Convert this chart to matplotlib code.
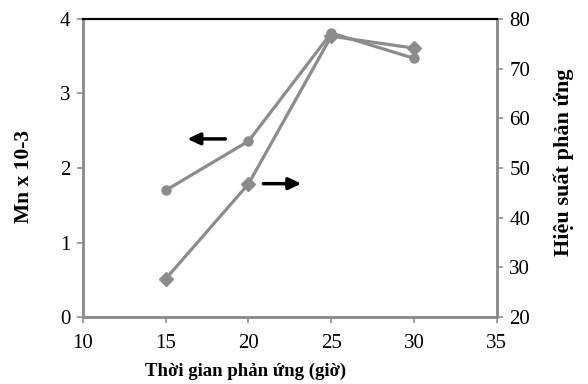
import numpy as np
import matplotlib
matplotlib.use("Agg")
import matplotlib.pyplot as plt

# data
time_h = [15, 20, 25, 30]
mn = [1.70, 2.36, 3.81, 3.47]           # Mn x 10-3 (left axis)
yield_pct = [27.7, 46.8, 76.5, 74.1]    # Hiệu suất phản ứng (right axis)

plt.rcParams['font.family'] = ['Liberation Serif', 'DejaVu Serif']

GRAY = "#8c8c8c"

fig = plt.figure(figsize=(5.88, 3.84), dpi=100)
ax = fig.add_axes([0.141, 0.174, 0.704, 0.777])
ax2 = ax.twinx()

ax.plot(time_h, mn, color=GRAY, lw=2.3, marker="o", ms=6.5, zorder=3)
ax2.plot(time_h, yield_pct, color=GRAY, lw=2.3, marker="D", ms=7, zorder=3)

ax.set_xlim(10, 35)
ax.set_ylim(0, 4)
ax2.set_ylim(20, 80)
ax.set_xticks(range(10, 36, 5))
ax.set_yticks(range(0, 5))
ax2.set_yticks(range(20, 81, 10))

for a in (ax, ax2):
    for s in ("left", "right", "bottom"):
        a.spines[s].set_color(GRAY)
        a.spines[s].set_linewidth(1.8)
    a.spines["top"].set_color("black")
    a.spines["top"].set_linewidth(1.5)
    a.tick_params(colors="black", labelsize=15, length=4, width=1.2, direction="out", pad=5)
    a.tick_params(axis="both", color=GRAY)
ax.tick_params(axis="x", pad=8)

ax.set_xlabel("Thời gian phản ứng (giờ)", fontsize=13.5, fontweight="bold")
ax.xaxis.set_label_coords(0.394, -0.153)
ax.set_ylabel("Mn x 10-3", fontsize=15.5, fontweight="bold")
ax.yaxis.set_label_coords(-0.118, 0.47)
ax2.set_ylabel("Hiệu suất phản ứng", fontsize=16, fontweight="bold")
ax2.yaxis.set_label_coords(1.136, 0.52)

# direction arrows
arrow = dict(arrowstyle="-|>,head_length=0.75,head_width=0.35", color="black", lw=2.5, shrinkA=0, shrinkB=0)
ax.annotate("", xy=(16.3, 2.39), xytext=(18.6, 2.39), arrowprops=arrow)
ax.annotate("", xy=(23.2, 1.79), xytext=(20.9, 1.79), arrowprops=arrow)

fig.savefig("out.png", dpi=100)
